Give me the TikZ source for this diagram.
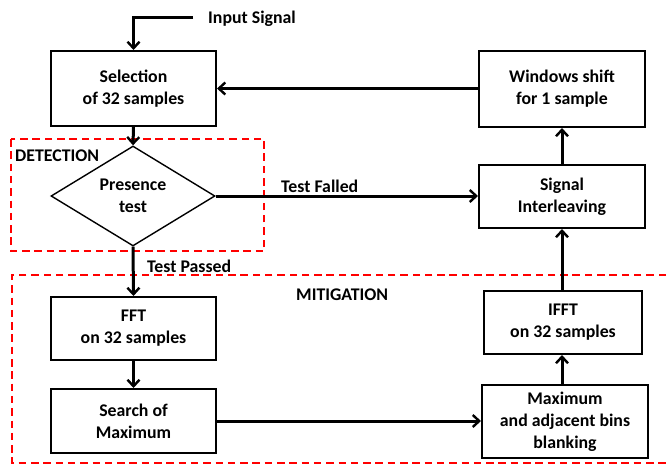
\documentclass[tikz,border=0pt]{standalone}
\usepackage{fontspec}
\setmainfont{Carlito}
\usetikzlibrary{arrows.meta,shapes.geometric}
\begin{document}
\begin{tikzpicture}[x=1pt,y=-1pt,
  every node/.style={font=\bfseries\fontsize{17.8}{22}\selectfont},
  block/.style={draw, line width=2pt, align=center, inner sep=0pt},
  decision/.style={draw, diamond, line width=1.4pt, align=center, inner sep=0pt,
    minimum width=164pt, minimum height=100pt, aspect=1.64},
  flow/.style={line width=3pt, -{Straight Barb[length=6.5pt,width=12pt,line width=2.4pt]}},
  zone/.style={draw=red, line width=1.8pt, dash pattern=on 7.5pt off 4.8pt},
  lbl/.style={anchor=base west, inner sep=0pt}]
\useasboundingbox (0,0) rectangle (668,466);

% processing blocks
\node[block, minimum width=165pt, minimum height=75pt] (sel) at (133.5,88.5) {Selection\\of 32 samples};
\node[block, minimum width=166pt, minimum height=76pt] (win) at (562,89) {Windows shift\\for 1 sample};
\node[block, minimum width=166pt, minimum height=63pt] (sig) at (562,196.5) {Signal\\Interleaving};
\node[decision] (test) at (133,196) {Presence\\test};
\node[block, minimum width=165pt, minimum height=63pt] (fft) at (133.5,328.5) {FFT\\on 32 samples};
\node[block, minimum width=165pt, minimum height=64pt] (srch) at (133.5,421) {Search of\\Maximum};
\node[block, minimum width=166pt, minimum height=73pt] (blank) at (565,421.5) {Maximum\\and adjacent bins\\blanking};
\node[block, minimum width=158pt, minimum height=63pt] (ifft) at (563,322.5) {IFFT\\on 32 samples};

% zones
\draw[zone] (11,139) rectangle (264,251);
\draw[zone] (666,275) -- (12,275) -- (12,463) -- (666,463);
\node[lbl] (det) at (15,161) {DETECTION};
\node[lbl] (mit) at (296,300) {MITIGATION};

% input
\node[lbl] (inp) at (208,23) {Input Signal};
\coordinate (in0) at (193,17);
\draw[flow] (in0) -- (in0 -| sel) -- (sel.north);

% connectors
\draw[flow] (sel.south) -- (test.north);
\draw[flow] (test.south) -- (fft.north);
\draw[flow] (fft.south) -- (srch.south |- srch.north);
\draw[flow] (srch.east) -- (srch.east -| blank.west);
\draw[flow] (blank.north -| sig) -- (ifft.south -| sig);
\draw[flow] (ifft.north -| sig) -- (sig.south);
\draw[flow] (sig.north) -- (win.south);
\draw[flow] (win.west |- sel.east) -- (sel.east);
\draw[flow] (test.east) -- (test.east -| sig.west);

% branch labels
\node[lbl] (fail) at (281,192) {Test Falled};
\node[lbl] (pass) at (147,272) {Test Passed};
\end{tikzpicture}
\end{document}
